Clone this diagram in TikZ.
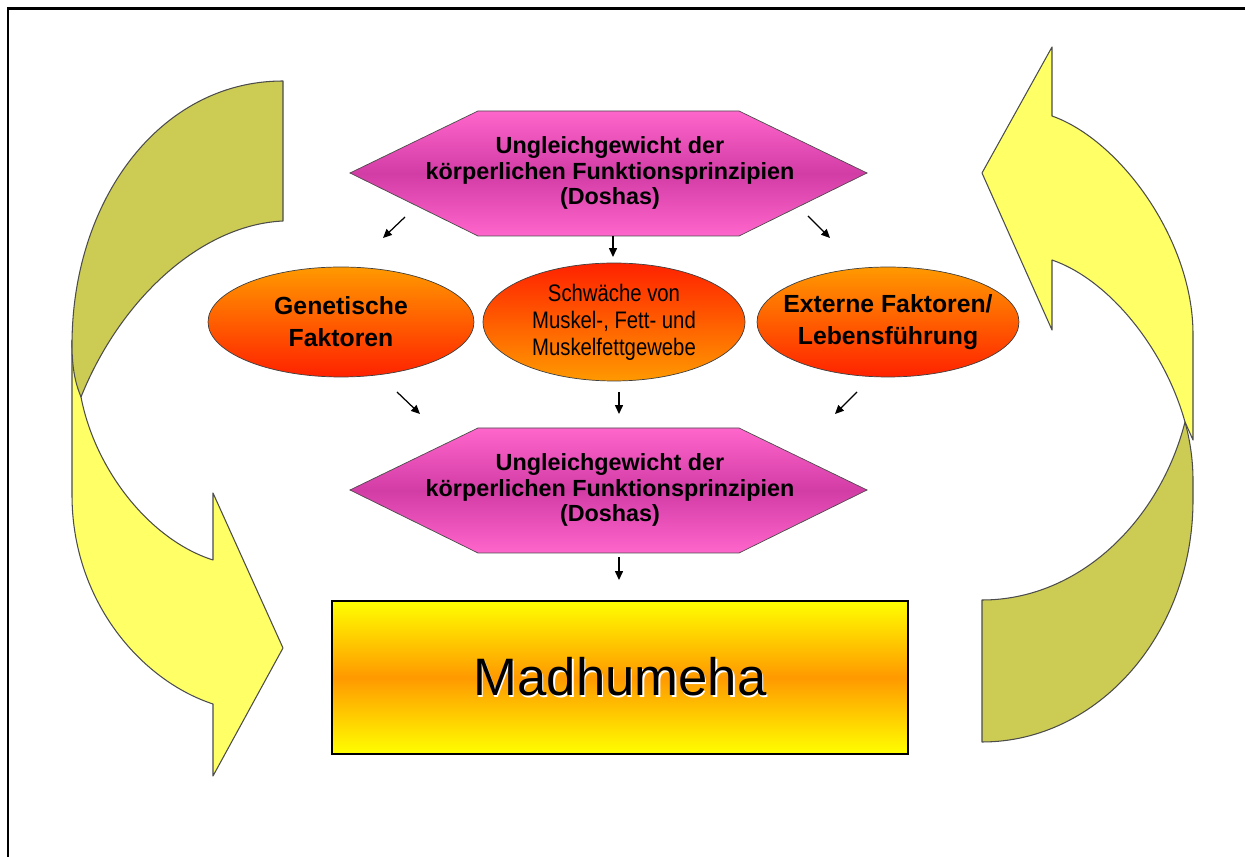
\documentclass[tikz,border=0pt]{standalone}
\usepackage{fontspec}
\setmainfont{Liberation Sans}
\newfontfamily\narrowsans[FakeStretch=0.85]{Liberation Sans}
\usetikzlibrary{shapes.geometric,arrows.meta}

\definecolor{hexpink}{HTML}{FF66CC}
\definecolor{hexdark}{HTML}{D23CA5}
\definecolor{ovorange}{HTML}{FF9900}
\definecolor{ovred}{HTML}{FF2200}
\definecolor{boxyellow}{HTML}{FFFF00}
\definecolor{boxorange}{HTML}{FF9900}
\definecolor{bandyellow}{HTML}{FFFF66}
\definecolor{bandolive}{HTML}{CCCC55}

\begin{document}
\begin{tikzpicture}[x=0.02cm,y=-0.02cm]
        \tikzstyle{hexfill} = [draw=black!70, thin, top color=hexpink, bottom color=hexpink, middle color=hexdark]
        \tikzstyle{hextext} = [inner sep=0pt, align=center, font=\fontsize{13.3}{14.7}\selectfont\bfseries]
        \tikzstyle{oval} = [ellipse, draw=black!75, thin, inner sep=0pt, align=center]
        \tikzstyle{band} = [draw=black!70, line width=0.6pt, line join=round]
        \tikzstyle{arr} = [line width=0.7pt, -{Triangle[length=5pt,width=4.5pt]}]
        \useasboundingbox (0,0) rectangle (1245,857);

        % frame
        \draw[line width=1.7pt] (8,857) -- (8,9) -- (1245,9);

        % left loop arrow
        \draw[band, fill=bandyellow] (72,340) -- (72,495) .. controls (72,600) and (140,680) .. (213,704) -- (213,776) -- (283,648) -- (213,493) -- (213,560) .. controls (150,540) and (95,470) .. (81,397) -- cycle;
        \draw[band, fill=bandolive] (283,81) .. controls (160,81) and (72,200) .. (72,345) .. controls (72,370) and (76,385) .. (81,397) .. controls (120,300) and (200,225) .. (283,221) -- cycle;

        % right loop arrow
        \draw[band, fill=bandyellow] (1052,116) .. controls (1120,140) and (1193,240) .. (1193,334) -- (1193,440) -- (1185,422) .. controls (1165,350) and (1110,280) .. (1052,260) -- (1052,330) -- (982,173) -- (1052,47) -- cycle;
        \draw[band, fill=bandolive] (1185,422) .. controls (1190,440) and (1193,460) .. (1193,480) -- (1193,500) .. controls (1193,634) and (1098,742) .. (982,742) -- (982,600) .. controls (1080,600) and (1160,520) .. (1185,422) -- cycle;

        % hexagons
        \draw[hexfill] (350,173) -- (478,111) -- (739,111) -- (867,173) -- (739,236) -- (478,236) -- cycle;
        \draw[hexfill] (350,490) -- (478,428) -- (739,428) -- (867,490) -- (739,553) -- (478,553) -- cycle;

        \node[hextext] (imbal1) at (610,173) {Ungleichgewicht der\\körperlichen Funktionsprinzipien\\(Doshas)};

        \node[oval, minimum width=5.32cm, minimum height=2.2cm, top color=ovorange, bottom color=ovred, font=\fontsize{14.1}{18.1}\selectfont\bfseries] (gen) at (341,322) {Genetische\\Faktoren};
        \node[oval, minimum width=5.24cm, minimum height=2.36cm, top color=ovred, bottom color=ovorange, font=\fontsize{13.6}{15.3}\selectfont\narrowsans] (weak) at (614,322) {Schwäche von\\Muskel-, Fett- und\\Muskelfettgewebe};
        \node[oval, inner xsep=-7pt, minimum width=5.24cm, minimum height=2.2cm, top color=ovorange, bottom color=ovred, font=\fontsize{14.1}{18.1}\selectfont\bfseries] (ext) at (888,322) {Externe Faktoren/\\Lebensführung};

        \node[hextext] (imbal2) at (610,490) {Ungleichgewicht der\\körperlichen Funktionsprinzipien\\(Doshas)};

        \node[draw=black, line width=0.9pt, minimum width=11.52cm, minimum height=3.06cm, inner sep=0pt, top color=boxyellow, bottom color=boxyellow, middle color=boxorange, font=\fontsize{30}{36}\selectfont] (madh) at (620,677.5) {\makebox[0pt][l]{\raisebox{-0.8pt}{\hspace{0.8pt}\textcolor{white}{Madhumeha}}}Madhumeha};

        % small arrows
        \coordinate (t1) at (405,217); \coordinate (t1e) at (383,238);
        \coordinate (t2) at (613,236); \coordinate (t2e) at (613,257);
        \coordinate (t3) at (808,216); \coordinate (t3e) at (830,238);
        \coordinate (m1) at (397,392); \coordinate (m1e) at (420,414);
        \coordinate (m2) at (619,392); \coordinate (m2e) at (619,414);
        \coordinate (m3) at (857,392); \coordinate (m3e) at (835,414);
        \coordinate (b1) at (619,557); \coordinate (b1e) at (619,580);

        \draw[arr] (t1) -- (t1e);
        \draw[arr] (t2) -- (t2e);
        \draw[arr] (t3) -- (t3e);
        \draw[arr] (m1) -- (m1e);
        \draw[arr] (m2) -- (m2e);
        \draw[arr] (m3) -- (m3e);
        \draw[arr] (b1) -- (b1e);
      \end{tikzpicture}
\end{document}
